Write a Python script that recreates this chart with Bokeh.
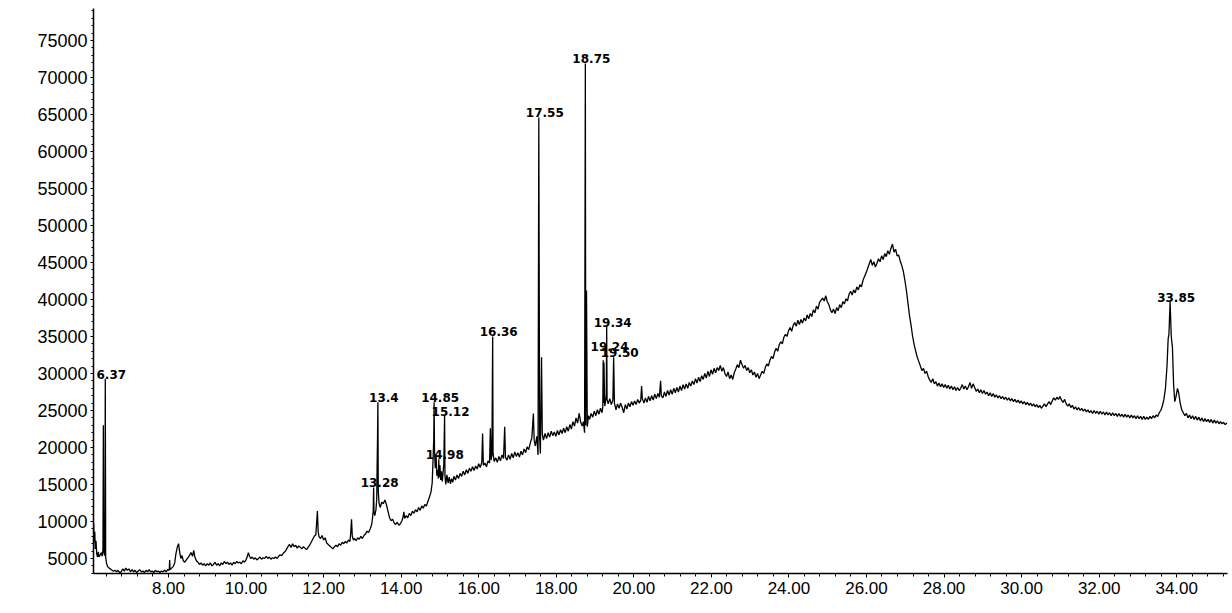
from bokeh.plotting import figure
from bokeh.models import FixedTicker, NumeralTickFormatter, ColumnDataSource
from bokeh.core.properties import value
from bokeh.embed import file_html
from bokeh.resources import INLINE
import numpy as np

# ---- chromatogram trace, (retention time [min], abundance) ----
trace_06_08 = [
    (6.07, 9800), (6.08, 7200), (6.10, 8600), (6.11, 6300), (6.13, 7400), (6.15, 5600),
    (6.17, 5200), (6.19, 5900), (6.21, 5200), (6.24, 5500), (6.27, 5800), (6.29, 5300),
    (6.31, 6200), (6.32, 23000), (6.33, 6100), (6.35, 5400), (6.36, 6000), (6.37, 29300),
    (6.38, 5200), (6.40, 4400), (6.43, 3900), (6.47, 3700), (6.52, 3500), (6.57, 3300),
    (6.62, 3400), (6.66, 3200), (6.70, 3400), (6.74, 3100), (6.78, 3200), (6.82, 3600),
    (6.86, 3300), (6.90, 3700), (6.94, 3400), (6.98, 3600), (7.02, 3200), (7.06, 3500),
    (7.10, 3200), (7.14, 3400), (7.18, 3100), (7.22, 3300), (7.26, 3500), (7.30, 3200),
    (7.34, 3300), (7.38, 3100), (7.42, 3400), (7.46, 3200), (7.50, 3500), (7.54, 3200),
    (7.58, 3300), (7.62, 3100), (7.66, 3400), (7.70, 3200), (7.74, 3300), (7.78, 3100),
    (7.82, 3300), (7.86, 3200), (7.90, 3400), (7.94, 3200), (7.98, 3500),
]
trace_08_12 = [
    (8.02, 3400), (8.03, 4800), (8.04, 3500), (8.08, 3700), (8.12, 3900), (8.16, 4400),
    (8.19, 5600), (8.23, 6600), (8.26, 7000), (8.29, 5800), (8.32, 5000), (8.35, 5400),
    (8.38, 4700), (8.42, 4500), (8.46, 4800), (8.50, 5100), (8.54, 5400), (8.58, 5800),
    (8.62, 5300), (8.65, 6100), (8.68, 5200), (8.72, 4700), (8.76, 4500), (8.80, 4200),
    (8.84, 4400), (8.88, 4100), (8.92, 4300), (8.96, 4000), (9.00, 4300), (9.04, 4100),
    (9.08, 4400), (9.12, 4000), (9.16, 4200), (9.20, 4500), (9.24, 4100), (9.28, 4300),
    (9.32, 4000), (9.36, 4400), (9.40, 4200), (9.44, 4600), (9.48, 4300), (9.52, 4500),
    (9.56, 4200), (9.60, 4400), (9.64, 4100), (9.68, 4500), (9.72, 4300), (9.76, 4600),
    (9.80, 4400), (9.84, 4500), (9.88, 4300), (9.92, 4700), (9.96, 4500), (10.00, 4800),
    (10.04, 5400), (10.06, 5800), (10.09, 5300), (10.12, 5000), (10.16, 5200), (10.20, 4900),
    (10.24, 5100), (10.28, 4800), (10.32, 5000), (10.36, 5200), (10.40, 4900), (10.44, 5100),
    (10.48, 5000), (10.52, 5300), (10.56, 5000), (10.60, 5200), (10.64, 4900), (10.68, 5100),
    (10.72, 5000), (10.76, 5200), (10.80, 5000), (10.84, 5300), (10.88, 5500), (10.92, 5400),
    (10.96, 5700), (11.00, 5900), (11.04, 6200), (11.08, 6600), (11.12, 6900), (11.16, 6500),
    (11.20, 7000), (11.24, 6600), (11.28, 6800), (11.32, 6400), (11.36, 6700), (11.40, 6500),
    (11.44, 6300), (11.48, 6600), (11.52, 6400), (11.56, 6200), (11.60, 6500), (11.64, 6800),
    (11.68, 7200), (11.72, 7600), (11.76, 8000), (11.80, 8200), (11.82, 9800), (11.84, 11400),
    (11.86, 8600), (11.88, 8000), (11.92, 7700), (11.96, 8100),
]
trace_12_16 = [
    (12.00, 7500), (12.04, 7800), (12.08, 7100), (12.12, 6900), (12.16, 6700), (12.20, 6500),
    (12.24, 6300), (12.28, 6600), (12.32, 6800), (12.36, 6600), (12.40, 7000), (12.44, 6800),
    (12.48, 7200), (12.52, 7000), (12.56, 7300), (12.60, 7100), (12.64, 7500), (12.68, 7300),
    (12.70, 8500), (12.72, 10300), (12.74, 8000), (12.77, 7500), (12.80, 7700), (12.84, 7400),
    (12.88, 7800), (12.92, 7600), (12.96, 8000), (13.00, 7700), (13.04, 8100), (13.08, 8300),
    (13.12, 8700), (13.16, 8500), (13.20, 9000), (13.24, 9600), (13.26, 10400), (13.28, 11500),
    (13.29, 14600), (13.30, 11200), (13.32, 10800), (13.35, 11600), (13.37, 13000), (13.38, 17500),
    (13.39, 21000), (13.40, 26100), (13.41, 14000), (13.43, 12500), (13.46, 11900), (13.50, 12600),
    (13.54, 12400), (13.58, 12900), (13.62, 12300), (13.66, 11400), (13.70, 10500), (13.74, 10100),
    (13.78, 10300), (13.82, 9800), (13.86, 9600), (13.90, 9900), (13.94, 9500), (13.98, 9700),
    (14.02, 10100), (14.05, 10600), (14.07, 11300), (14.09, 10400), (14.13, 10800), (14.17, 10500),
    (14.21, 11100), (14.25, 10800), (14.29, 11400), (14.33, 11100), (14.37, 11600), (14.41, 11300),
    (14.45, 11900), (14.49, 11500), (14.53, 12100), (14.57, 11800), (14.61, 12300), (14.65, 12100),
    (14.69, 12700), (14.73, 13300), (14.77, 14000), (14.80, 15200), (14.82, 18000), (14.84, 21000),
    (14.85, 26100), (14.86, 19500), (14.88, 17200), (14.90, 19000), (14.92, 16200), (14.94, 17000),
    (14.96, 15800), (14.97, 18400), (14.98, 16000), (15.00, 17600), (15.02, 15600), (15.04, 16800),
    (15.06, 15400), (15.08, 16500), (15.10, 17800), (15.12, 24300), (15.13, 16200), (15.15, 15000),
    (15.18, 16300), (15.21, 15200), (15.24, 16000), (15.27, 15100), (15.30, 15800), (15.33, 15300),
    (15.36, 16100), (15.40, 15600), (15.44, 16300), (15.48, 15800), (15.52, 16500), (15.56, 16100),
    (15.60, 16800), (15.64, 16300), (15.68, 17000), (15.72, 16500), (15.76, 17200), (15.80, 16800),
    (15.84, 17400), (15.88, 16900), (15.92, 17500), (15.96, 17100),
]
trace_16_20 = [
    (16.00, 17800), (16.04, 17300), (16.08, 18000), (16.10, 21900), (16.12, 17600), (16.16, 17900),
    (16.20, 17400), (16.24, 18200), (16.28, 17900), (16.30, 22600), (16.32, 18300), (16.34, 19000),
    (16.36, 35000), (16.37, 19200), (16.40, 18100), (16.44, 18600), (16.48, 18000), (16.52, 18800),
    (16.56, 18200), (16.60, 19000), (16.64, 18500), (16.67, 22800), (16.69, 18700), (16.73, 18300),
    (16.77, 19000), (16.81, 18400), (16.85, 19200), (16.89, 18600), (16.93, 19400), (16.97, 18800),
    (17.01, 19300), (17.05, 18700), (17.09, 19500), (17.13, 19000), (17.17, 19800), (17.21, 19300),
    (17.25, 20100), (17.29, 19700), (17.33, 20600), (17.37, 21300), (17.41, 24600), (17.43, 21000),
    (17.46, 20200), (17.50, 21500), (17.53, 19000), (17.55, 64600), (17.57, 21500), (17.59, 19200),
    (17.62, 32200), (17.64, 21800), (17.67, 21000), (17.71, 21900), (17.75, 21200), (17.79, 22000),
    (17.83, 21400), (17.87, 22200), (17.91, 21600), (17.95, 22100), (17.99, 21500), (18.03, 22300),
    (18.07, 21700), (18.11, 22400), (18.15, 21900), (18.19, 22600), (18.23, 22000), (18.27, 22800),
    (18.31, 22200), (18.35, 23100), (18.39, 22500), (18.43, 23500), (18.47, 22900), (18.51, 24000),
    (18.55, 23300), (18.59, 24600), (18.63, 23400), (18.67, 22900), (18.70, 23500), (18.73, 22000),
    (18.75, 71900), (18.76, 23000), (18.78, 41200), (18.80, 22800), (18.83, 24300), (18.86, 23800),
    (18.90, 24600), (18.94, 24100), (18.98, 24900), (19.02, 24300), (19.06, 25100), (19.10, 24500),
    (19.14, 25300), (19.18, 24700), (19.20, 25500), (19.21, 31800), (19.22, 26000), (19.23, 31500),
    (19.25, 25600), (19.27, 26200), (19.29, 27000), (19.30, 36350), (19.31, 26500), (19.34, 25900),
    (19.38, 26600), (19.42, 25800), (19.46, 26400), (19.48, 32200), (19.50, 26000), (19.54, 25100),
    (19.58, 25900), (19.62, 25300), (19.66, 26000), (19.70, 25400), (19.74, 24700), (19.78, 25800),
    (19.82, 25200), (19.86, 26000), (19.90, 25500), (19.94, 26200), (19.98, 25700),
]
trace_20_26 = [
    (20.02, 26300), (20.06, 25800), (20.10, 26500), (20.14, 26000), (20.18, 26400), (20.20, 28300),
    (20.22, 26600), (20.26, 26000), (20.30, 26700), (20.34, 26100), (20.38, 26900), (20.42, 26300),
    (20.46, 27000), (20.50, 26400), (20.54, 27200), (20.58, 26600), (20.62, 27300), (20.66, 26800),
    (20.69, 29000), (20.71, 27000), (20.75, 26700), (20.79, 27500), (20.83, 26900), (20.87, 27700),
    (20.91, 27100), (20.95, 27800), (20.99, 27200), (21.03, 28000), (21.07, 27400), (21.11, 28100),
    (21.15, 27500), (21.19, 28300), (21.23, 27700), (21.27, 28500), (21.31, 27900), (21.35, 28600),
    (21.39, 28000), (21.43, 28800), (21.47, 28300), (21.51, 29000), (21.55, 28500), (21.59, 29300),
    (21.63, 28700), (21.67, 29500), (21.71, 28900), (21.75, 29700), (21.79, 29200), (21.83, 30000),
    (21.87, 29400), (21.91, 30300), (21.95, 29600), (21.99, 30500), (22.03, 29900), (22.07, 30700),
    (22.11, 30100), (22.15, 30800), (22.19, 30400), (22.23, 31100), (22.27, 30300), (22.31, 30800),
    (22.35, 30000), (22.39, 29600), (22.43, 30200), (22.47, 29300), (22.51, 29800), (22.55, 29200),
    (22.59, 30100), (22.63, 30600), (22.67, 31200), (22.71, 30800), (22.75, 31800), (22.79, 31200),
    (22.83, 30700), (22.87, 31100), (22.91, 30400), (22.95, 30800), (22.99, 30100), (23.03, 30500),
    (23.07, 29800), (23.11, 30200), (23.15, 29500), (23.19, 30000), (23.23, 29300), (23.27, 29800),
    (23.31, 30300), (23.35, 30000), (23.39, 30800), (23.43, 31300), (23.47, 31000), (23.51, 31800),
    (23.55, 32300), (23.59, 32000), (23.63, 32900), (23.67, 33400), (23.71, 33000), (23.75, 33900),
    (23.79, 34300), (23.83, 34000), (23.87, 34900), (23.91, 35300), (23.95, 35000), (23.99, 35800),
    (24.03, 36200), (24.07, 35700), (24.11, 36500), (24.15, 36900), (24.19, 36400), (24.23, 37200),
    (24.27, 36600), (24.31, 37300), (24.35, 36800), (24.39, 37500), (24.43, 37100), (24.47, 37900),
    (24.51, 37400), (24.55, 38100), (24.59, 37700), (24.63, 38600), (24.67, 38200), (24.71, 39100),
    (24.75, 38700), (24.79, 39600), (24.83, 39900), (24.87, 40200), (24.91, 39800), (24.95, 40500),
    (24.99, 39700), (25.03, 39300), (25.07, 38600), (25.11, 38200), (25.15, 38700), (25.19, 38100),
    (25.23, 38900), (25.27, 38500), (25.31, 39300), (25.35, 38900), (25.39, 39700), (25.43, 39400),
    (25.47, 40100), (25.51, 39800), (25.55, 40700), (25.59, 41100), (25.63, 40600), (25.67, 41300),
    (25.71, 40900), (25.75, 41700), (25.79, 41300), (25.83, 42000), (25.87, 41700), (25.91, 42600),
    (25.95, 43100), (25.99, 43600),
]
trace_26_30 = [
    (26.03, 44200), (26.07, 44800), (26.11, 45400), (26.15, 44600), (26.19, 45100), (26.23, 44400),
    (26.27, 44900), (26.31, 45500), (26.35, 45100), (26.39, 45900), (26.43, 45400), (26.47, 46200),
    (26.51, 45800), (26.55, 46600), (26.59, 46100), (26.63, 46900), (26.67, 47500), (26.71, 46400),
    (26.75, 46800), (26.79, 45900), (26.83, 46000), (26.87, 45200), (26.91, 44600), (26.95, 43800),
    (26.99, 42600), (27.03, 41200), (27.07, 39500), (27.11, 37800), (27.15, 36500), (27.19, 35000),
    (27.23, 33900), (27.27, 33000), (27.31, 32200), (27.35, 31600), (27.39, 31000), (27.43, 30400),
    (27.47, 30700), (27.51, 30000), (27.55, 30300), (27.59, 29600), (27.63, 29100), (27.67, 28800),
    (27.71, 29300), (27.75, 28600), (27.79, 28900), (27.83, 28300), (27.87, 28700), (27.91, 28200),
    (27.95, 28600), (27.99, 28100), (28.03, 28500), (28.07, 28000), (28.11, 28400), (28.15, 27900),
    (28.19, 28300), (28.23, 27800), (28.27, 28200), (28.31, 27700), (28.35, 28100), (28.39, 27700),
    (28.43, 28000), (28.47, 28500), (28.51, 27900), (28.55, 28300), (28.59, 27800), (28.63, 28200),
    (28.67, 28800), (28.71, 28000), (28.75, 28600), (28.79, 28100), (28.83, 27600), (28.87, 27900),
    (28.91, 27400), (28.95, 27800), (28.99, 27300), (29.03, 27700), (29.07, 27200), (29.11, 27500),
    (29.15, 27000), (29.19, 27400), (29.23, 26900), (29.27, 27300), (29.31, 26800), (29.35, 27100),
    (29.39, 26700), (29.43, 27000), (29.47, 26600), (29.51, 26900), (29.55, 26500), (29.59, 26800),
    (29.63, 26400), (29.67, 26700), (29.71, 26300), (29.75, 26600), (29.79, 26200), (29.83, 26500),
    (29.87, 26100), (29.91, 26400), (29.95, 26000), (29.99, 26300),
]
trace_30_36 = [
    (30.03, 25900), (30.07, 26200), (30.11, 25800), (30.15, 26100), (30.19, 25700), (30.23, 26000),
    (30.27, 25600), (30.31, 25900), (30.35, 25500), (30.39, 25800), (30.43, 25400), (30.47, 25700),
    (30.51, 25300), (30.55, 25600), (30.59, 25900), (30.63, 25500), (30.67, 25900), (30.71, 26200),
    (30.75, 25800), (30.79, 26300), (30.83, 26700), (30.87, 26400), (30.91, 26800), (30.95, 26500),
    (30.99, 26900), (31.03, 26400), (31.07, 26100), (31.11, 26500), (31.15, 25900), (31.19, 25600),
    (31.23, 25900), (31.27, 25400), (31.31, 25700), (31.35, 25200), (31.39, 25500), (31.43, 25100),
    (31.47, 25400), (31.51, 25000), (31.55, 25300), (31.59, 24900), (31.63, 25200), (31.67, 24800),
    (31.71, 25100), (31.75, 24700), (31.79, 25000), (31.83, 24600), (31.87, 25000), (31.91, 24600),
    (31.95, 24900), (31.99, 24500), (32.03, 24900), (32.07, 24500), (32.11, 24800), (32.15, 24400),
    (32.19, 24800), (32.23, 24400), (32.27, 24700), (32.31, 24300), (32.35, 24700), (32.39, 24300),
    (32.43, 24600), (32.47, 24200), (32.51, 24600), (32.55, 24200), (32.59, 24500), (32.63, 24100),
    (32.67, 24500), (32.71, 24100), (32.75, 24400), (32.79, 24000), (32.83, 24400), (32.87, 24000),
    (32.91, 24300), (32.95, 23900), (32.99, 24300), (33.03, 23900), (33.07, 24200), (33.11, 23800),
    (33.15, 24200), (33.19, 23800), (33.23, 24100), (33.27, 23800), (33.31, 24200), (33.35, 23900),
    (33.39, 24300), (33.43, 24000), (33.47, 24400), (33.51, 24200), (33.55, 24700), (33.59, 25000),
    (33.63, 25600), (33.67, 26500), (33.71, 28000), (33.75, 31000), (33.78, 34700), (33.80, 35300),
    (33.83, 39700), (33.86, 35000), (33.89, 33500), (33.92, 28500), (33.95, 26200), (33.98, 26800),
    (34.02, 28000), (34.05, 27400), (34.09, 26000), (34.13, 25100), (34.17, 24700), (34.21, 24300),
    (34.25, 24600), (34.29, 24000), (34.33, 24400), (34.37, 23900), (34.41, 24300), (34.45, 23800),
    (34.49, 24200), (34.53, 23700), (34.57, 24100), (34.61, 23600), (34.65, 24000), (34.69, 23500),
    (34.73, 23900), (34.77, 23500), (34.81, 23800), (34.85, 23400), (34.89, 23800), (34.93, 23300),
    (34.97, 23700), (35.01, 23300), (35.05, 23600), (35.09, 23200), (35.13, 23500), (35.17, 23200),
    (35.21, 23400), (35.25, 23100), (35.30, 23300),
]

# ---- peak annotations ----
peak_labels = ["6.37", "13.28", "13.4", "14.85", "14.98", "15.12", "16.36",
               "17.55", "18.75", "19.24", "19.34", "19.50", "33.85"]
peak_rt = [6.37, 13.29, 13.40, 14.85, 14.97, 15.12, 16.36,
           17.55, 18.75, 19.22, 19.30, 19.48, 33.83]
peak_apex = [29300, 14600, 26100, 26100, 18400, 24300, 35000,
             64600, 71900, 33000, 36350, 32200, 39700]

# ---- axis ticks ----
x_major = [8, 10, 12, 14, 16, 18, 20, 22, 24, 26, 28, 30, 32, 34]
y_major = [5000, 10000, 15000, 20000, 25000, 30000, 35000, 40000,
           45000, 50000, 55000, 60000, 65000, 70000, 75000]

trace = (trace_06_08 + trace_08_12 + trace_12_16 + trace_16_20 +
         trace_20_26 + trace_26_30 + trace_30_36)
rt = [t for t, a in trace]
ab = [a for t, a in trace]

p = figure(width=1230, height=611, x_range=(6.066, 35.31), y_range=(2973, 79324),
           output_backend="svg", toolbar_location=None,
           min_border_left=93, min_border_right=3, min_border_top=8, min_border_bottom=38)
p.background_fill_color = "white"
p.border_fill_color = "white"
p.outline_line_color = None
p.xgrid.visible = False
p.ygrid.visible = False

p.line(rt, ab, line_color="black", line_width=1.3)

lbl = ColumnDataSource(dict(x=peak_rt, y=peak_apex, t=peak_labels))
p.text(x="x", y="y", text="t", source=lbl, text_font=value("DejaVu Sans"),
       text_font_style="bold", text_font_size="12px", text_color="black",
       text_align="center", text_baseline="bottom", x_offset=6, y_offset=0)

x_minor = [round(v, 2) for v in np.arange(6.4, 35.3, 0.4)]
y_minor = list(range(3000, 79001, 1000))
p.xaxis.ticker = FixedTicker(ticks=x_major, minor_ticks=x_minor)
p.yaxis.ticker = FixedTicker(ticks=y_major, minor_ticks=y_minor)
p.xaxis.formatter = NumeralTickFormatter(format="0.00")
p.yaxis.formatter = NumeralTickFormatter(format="0")

for ax in (p.xaxis[0], p.yaxis[0]):
    ax.axis_line_color = "black"
    ax.axis_line_width = 1.5
    ax.major_tick_line_color = "black"
    ax.minor_tick_line_color = "black"
    ax.major_tick_in = 0
    ax.minor_tick_in = 0
    ax.major_label_text_font = "Liberation Sans"
    ax.major_label_text_color = "black"

p.xaxis.major_tick_out = 4
p.xaxis.minor_tick_out = 3
p.xaxis.major_label_standoff = 4
p.xaxis.major_label_text_font_size = "17px"
p.yaxis.major_tick_out = 3
p.yaxis.minor_tick_out = 2
p.yaxis.major_label_standoff = 3
p.yaxis.major_label_text_font_size = "18px"

open("out.html", "w").write(file_html(p, INLINE))
